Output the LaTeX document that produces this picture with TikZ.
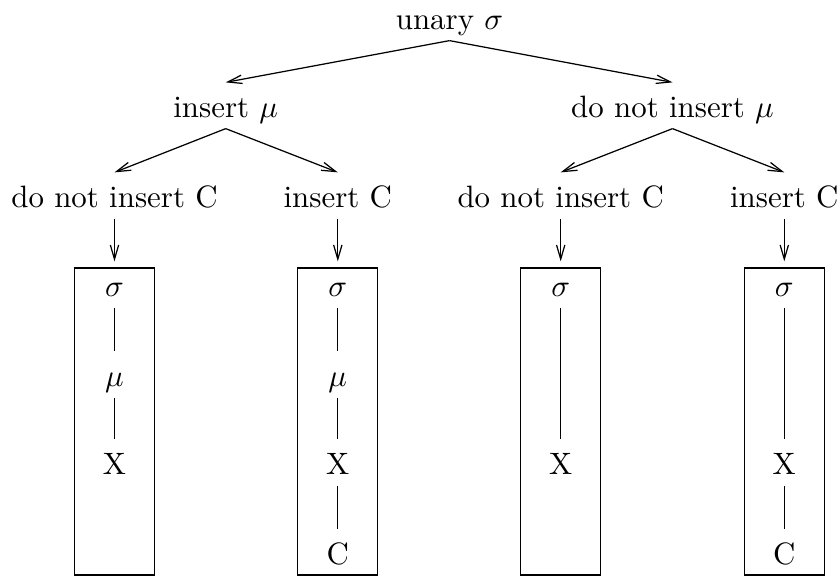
\documentclass[tikz,border=0pt]{standalone}
\usetikzlibrary{arrows.meta}
\begin{document}
\begin{tikzpicture}[x=0.3236pt,y=-0.3236pt,
  lbl/.style={inner sep=0pt, text height=11.33pt, text depth=3.24pt, anchor=base},
  column/.style={draw, inner sep=0pt, minimum width=25.9pt, minimum height=99.3pt},
  branch/.style={-{Straight Barb[length=4.6pt,width=2.7pt]}},
  link/.style={-}]
\useasboundingbox (0,0) rectangle (839,576);

% decision tree
\node[lbl] (root) at (449.5,30) {unary $\sigma$};
\node[lbl] (l) at (225.7,118) {insert $\mu$};
\node[lbl] (r) at (672.5,118) {do not insert $\mu$};
\node[lbl] (ll) at (114.5,208) {do not insert C};
\node[lbl] (lr) at (337.8,208) {insert C};
\node[lbl] (rl) at (560.7,208) {do not insert C};
\node[lbl] (rr) at (784.3,208) {insert C};

% resulting chains, one per box
\node[column] (b1) at (114.5,421.5) {};
\node[column] (b2) at (337.8,421.5) {};
\node[column] (b3) at (560.7,421.5) {};
\node[column] (b4) at (784.3,421.5) {};

\node[lbl] (s1) at (114.5,297) {$\sigma$};
\node[lbl] (m1) at (114.5,387) {$\mu$};
\node[lbl] (x1) at (114.5,475) {X};

\node[lbl] (s2) at (337.8,297) {$\sigma$};
\node[lbl] (m2) at (337.8,387) {$\mu$};
\node[lbl] (x2) at (337.8,475) {X};
\node[lbl] (c2) at (337.8,565) {C};

\node[lbl] (s3) at (560.7,297) {$\sigma$};
\node[lbl] (x3) at (560.7,475) {X};

\node[lbl] (s4) at (784.3,297) {$\sigma$};
\node[lbl] (x4) at (784.3,475) {X};
\node[lbl] (c4) at (784.3,565) {C};

% branches
\draw[branch] (root.south) -- (l.north);
\draw[branch] (root.south) -- (r.north);
\draw[branch] (l.south) -- (ll.north);
\draw[branch] (l.south) -- (lr.north);
\draw[branch] (r.south) -- (rl.north);
\draw[branch] (r.south) -- (rr.north);
\draw[branch] (ll.south) -- (s1.north);
\draw[branch] (lr.south) -- (s2.north);
\draw[branch] (rl.south) -- (s3.north);
\draw[branch] (rr.south) -- (s4.north);

% links inside the boxes
\draw[link] (s1.south) -- (m1.north);
\draw[link] (m1.south) -- (x1.north);
\draw[link] (s2.south) -- (m2.north);
\draw[link] (m2.south) -- (x2.north);
\draw[link] (x2.south) -- (c2.north);
\draw[link] (s3.south) -- (x3.north);
\draw[link] (s4.south) -- (x4.north);
\draw[link] (x4.south) -- (c4.north);
\end{tikzpicture}
\end{document}
